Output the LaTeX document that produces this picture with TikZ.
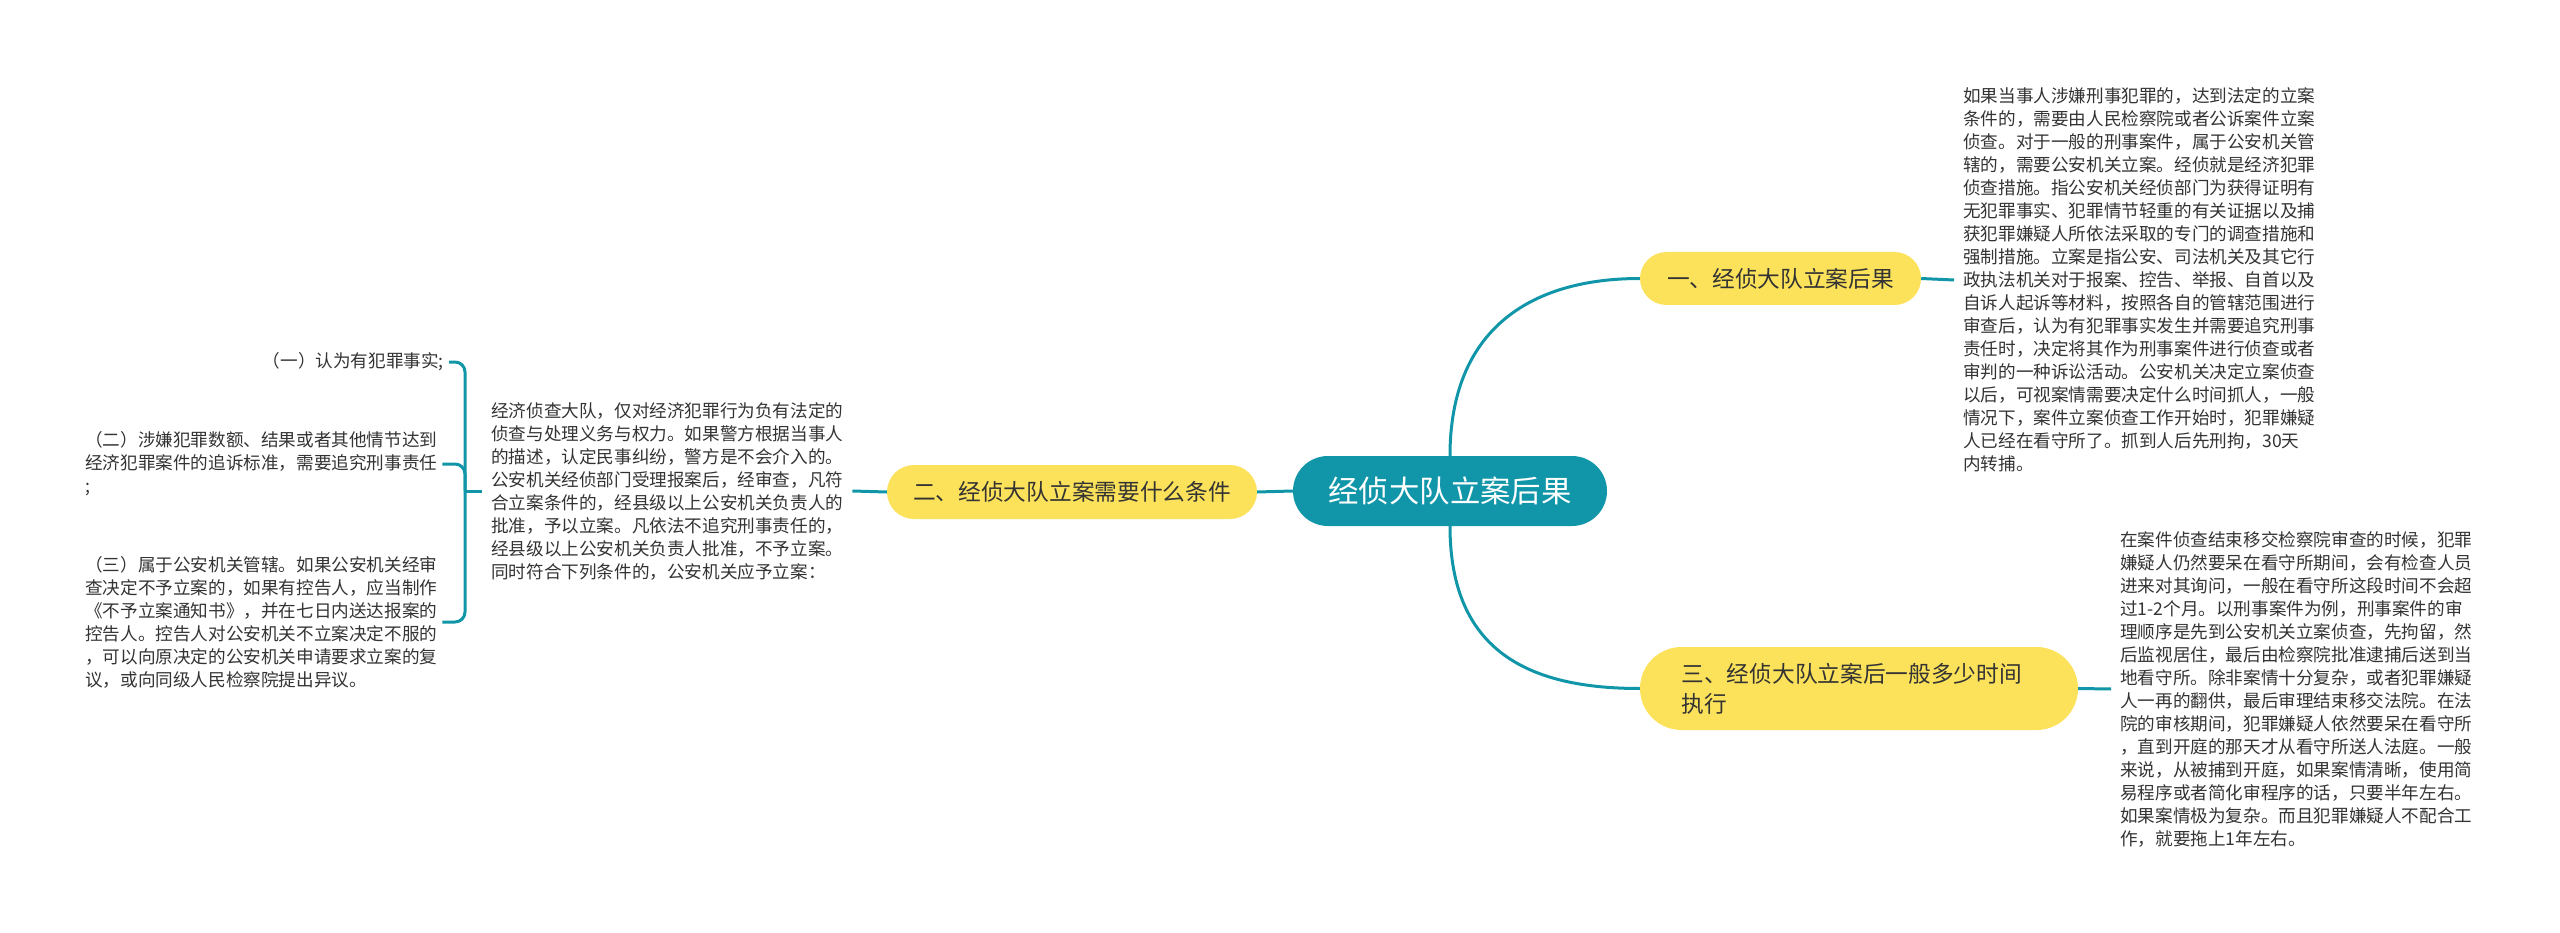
\documentclass[tikz,border=0pt]{standalone}
\usepackage{fontspec}
\newfontfamily\cjk{Noto Sans CJK SC}
\usetikzlibrary{shapes.misc}
\definecolor{tealc}{RGB}{16,150,168}
\definecolor{yelc}{RGB}{252,226,90}
\definecolor{txtc}{RGB}{51,51,51}
\begin{document}
\begin{tikzpicture}[x=1pt,y=-1pt,
  conn/.style={draw=tealc, line width=3pt},
  rootbox/.style={rounded rectangle, fill=tealc, text=white, inner sep=0pt,
    font=\cjk\fontsize{30.4}{36}\selectfont},
  topicbox/.style={rounded rectangle, fill=yelc, text=txtc, inner sep=0pt,
    font=\cjk\fontsize{22.7}{30}\selectfont},
  bodytext/.style={text=txtc, align=left, inner xsep=9pt, inner ysep=2pt,
    font=\cjk\fontsize{17.6}{23}\selectfont},
  lefttext/.style={bodytext, inner xsep=5pt}]
\useasboundingbox (0,0) rectangle (2560,933);

% root and topics
\node[rootbox, minimum width=314, minimum height=70] (root) at (1450,491) {经侦大队立案后果};
\node[topicbox, minimum width=281, minimum height=53] (n1) at (1780.5,278.5) {一、经侦大队立案后果};
\node[topicbox, minimum width=370, minimum height=54] (n2) at (1072,492) {二、经侦大队立案需要什么条件};
\node[topicbox, minimum width=438, minimum height=83, text width=355, align=left] (n3) at (1859,688.5)
  {三、经侦大队立案后一般多少时间\\执行};

% body texts
\node[bodytext, anchor=west] (t1) at (1954,280) {如果当事人涉嫌刑事犯罪的，达到法定的立案\\
条件的，需要由人民检察院或者公诉案件立案\\
侦查。对于一般的刑事案件，属于公安机关管\\
辖的，需要公安机关立案。经侦就是经济犯罪\\
侦查措施。指公安机关经侦部门为获得证明有\\
无犯罪事实、犯罪情节轻重的有关证据以及捕\\
获犯罪嫌疑人所依法采取的专门的调查措施和\\
强制措施。立案是指公安、司法机关及其它行\\
政执法机关对于报案、控告、举报、自首以及\\
自诉人起诉等材料，按照各自的管辖范围进行\\
审查后，认为有犯罪事实发生并需要追究刑事\\
责任时，决定将其作为刑事案件进行侦查或者\\
审判的一种诉讼活动。公安机关决定立案侦查\\
以后，可视案情需要决定什么时间抓人，一般\\
情况下，案件立案侦查工作开始时，犯罪嫌疑\\
人已经在看守所了。抓到人后先刑拘，30天\\
内转捕。};

\node[bodytext, anchor=west] (t3) at (2111,689) {在案件侦查结束移交检察院审查的时候，犯罪\\
嫌疑人仍然要呆在看守所期间，会有检查人员\\
进来对其询问，一般在看守所这段时间不会超\\
过1-2个月。以刑事案件为例，刑事案件的审\\
理顺序是先到公安机关立案侦查，先拘留，然\\
后监视居住，最后由检察院批准逮捕后送到当\\
地看守所。除非案情十分复杂，或者犯罪嫌疑\\
人一再的翻供，最后审理结束移交法院。在法\\
院的审核期间，犯罪嫌疑人依然要呆在看守所\\
，直到开庭的那天才从看守所送人法庭。一般\\
来说，从被捕到开庭，如果案情清晰，使用简\\
易程序或者简化审程序的话，只要半年左右。\\
如果案情极为复杂。而且犯罪嫌疑人不配合工\\
作，就要拖上1年左右。};

\node[bodytext, anchor=west] (mid) at (482,491) {经济侦查大队，仅对经济犯罪行为负有法定的\\
侦查与处理义务与权力。如果警方根据当事人\\
的描述，认定民事纠纷，警方是不会介入的。\\
公安机关经侦部门受理报案后，经审查，凡符\\
合立案条件的，经县级以上公安机关负责人的\\
批准，予以立案。凡依法不追究刑事责任的，\\
经县级以上公安机关负责人批准，不予立案。\\
同时符合下列条件的，公安机关应予立案：};

\node[lefttext, anchor=east] (l1) at (449,362) {（一）认为有犯罪事实;};
\node[lefttext, anchor=west] (l2) at (80,464) {（二）涉嫌犯罪数额、结果或者其他情节达到\\
经济犯罪案件的追诉标准，需要追究刑事责任\\
;};
\node[lefttext, anchor=west] (l3) at (80,622) {（三）属于公安机关管辖。如果公安机关经审\\
查决定不予立案的，如果有控告人，应当制作\\
《不予立案通知书》，并在七日内送达报案的\\
控告人。控告人对公安机关不立案决定不服的\\
，可以向原决定的公安机关申请要求立案的复\\
议，或向同级人民检察院提出异议。};

% connectors
\draw[conn] (root.north) .. controls +(0,-126) and +(-110,0) .. (n1.west);
\draw[conn] (root.south) .. controls +(0,126) and +(-110,0) .. (n3.west);
\draw[conn] (root.west) -- (n2.east);
\draw[conn] (n1.east) -- (t1.west);
\draw[conn] (n3.east) -- (t3.west);
\draw[conn] (n2.west) -- (mid.east);
\coordinate (br) at (465,491);
\draw[conn] (mid.west) -- (br);
\draw[conn, rounded corners=10pt] (br) |- (l1.east);
\draw[conn, rounded corners=10pt] (br) |- (l2.east);
\draw[conn, rounded corners=10pt] (br) |- (l3.east);
\end{tikzpicture}
\end{document}
